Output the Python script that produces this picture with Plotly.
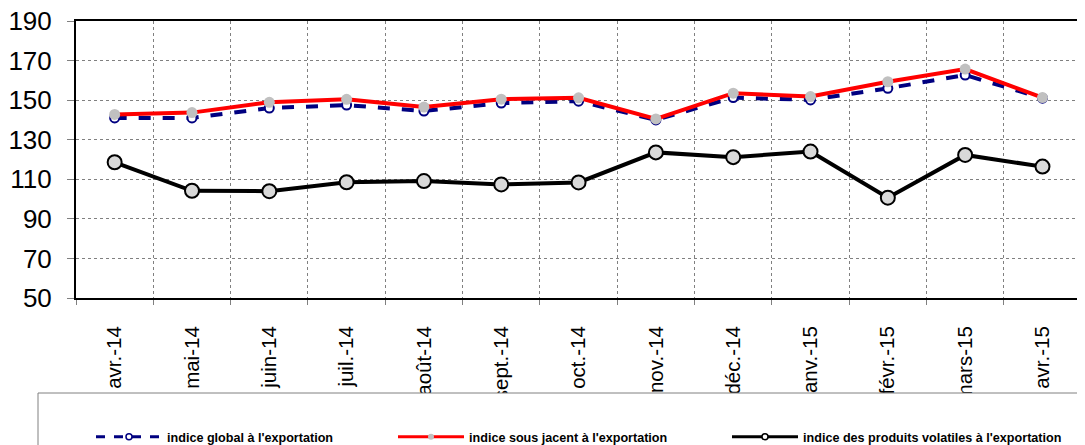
import plotly.graph_objects as go

months = ["avr.-14", "mai-14", "juin-14", "juil.-14", "août-14", "sept.-14", "oct.-14",
          "nov.-14", "déc.-14", "janv.-15", "févr.-15", "mars-15", "avr.-15"]
indice_global = [141, 141, 146, 147.5, 144.5, 148.5, 149.5, 140, 151.3, 150.1, 156, 162.7, 151]
indice_sous_jacent = [142.8, 143.7, 148.9, 150.4, 146.5, 150.5, 151.2, 140.5, 153.5, 151.8, 159.3, 165.7, 151.3]
indice_volatiles = [118.6, 104.2, 104.0, 108.5, 109.1, 107.4, 108.4, 123.6, 121.2, 124.0, 100.7, 122.3, 116.4]

names = ["indice global à l'exportation", "indice sous jacent à l'exportation",
         "indice des produits volatiles à l'exportation"]

FONT = "Arial, Liberation Sans, sans-serif"

# page offset (body margin of the html page)
OFF = 8
W, H = 1085 - OFF, 445 - OFF
L, T, R = 76 - OFF, 21 - OFF, 0
PB = 298 - OFF          # plot bottom in figure coords
B = H - PB
pw = W - L - R
ph = PB - T

def px_x(x):            # page px -> paper
    return (x - OFF - L) / pw

def px_y(y):
    return (PB - (y - OFF)) / ph

fig = go.Figure()
fig.add_trace(go.Scatter(
    x=months, y=indice_global, name=names[0], mode="lines+markers",
    line=dict(color="#000080", width=4, dash="dash"),
    marker=dict(symbol="circle", size=9, color="white", line=dict(color="#000080", width=2)),
    showlegend=False))
fig.add_trace(go.Scatter(
    x=months, y=indice_sous_jacent, name=names[1], mode="lines+markers",
    line=dict(color="#ff0000", width=4),
    marker=dict(symbol="circle", size=11, color="#c0c0c0", line=dict(width=0)),
    showlegend=False))
fig.add_trace(go.Scatter(
    x=months, y=indice_volatiles, name=names[2], mode="lines+markers",
    line=dict(color="#000000", width=4),
    marker=dict(symbol="circle", size=14, color="#d9d9d9", line=dict(color="#000000", width=2)),
    showlegend=False))

# legend entries (small symbols like the reference)
fig.add_trace(go.Scatter(
    x=[None], y=[None], name=names[0], mode="lines+markers",
    line=dict(color="#000080", width=3, dash="dash"),
    marker=dict(symbol="circle", size=6, color="white", line=dict(color="#000080", width=1.5)),
    legend="legend"))
fig.add_trace(go.Scatter(
    x=[None], y=[None], name=names[1], mode="lines+markers",
    line=dict(color="#ff0000", width=3),
    marker=dict(symbol="circle", size=6, color="#c0c0c0", line=dict(width=0)),
    legend="legend2"))
fig.add_trace(go.Scatter(
    x=[None], y=[None], name=names[2], mode="lines+markers",
    line=dict(color="#000000", width=3),
    marker=dict(symbol="circle", size=6, color="white", line=dict(color="#000000", width=1.5)),
    legend="legend3"))

leg_font = dict(family=FONT, size=12.6, color="black", weight="bold")
leg_common = dict(orientation="h", font=leg_font, bgcolor="rgba(0,0,0,0)",
                  xanchor="left", yanchor="middle", borderwidth=0, itemwidth=66)

fig.update_layout(
    width=W, height=H,
    margin=dict(l=L, r=R, t=T, b=B, autoexpand=False),
    paper_bgcolor="white", plot_bgcolor="white",
    font=dict(family=FONT, color="black"),
    showlegend=True,
    legend=dict(x=px_x(91), y=px_y(437), **leg_common),
    legend2=dict(x=px_x(393), y=px_y(437), **leg_common),
    legend3=dict(x=px_x(727), y=px_y(437), **leg_common),
    xaxis=dict(
        type="category", tickson="boundaries", tickangle=-90,
        tickfont=dict(family=FONT, size=20.5, color="black"),
        showgrid=True, gridcolor="#808080", griddash="dot", gridwidth=1,
        ticks="outside", ticklen=5, tickcolor="#808080",
        showline=True, linecolor="black", linewidth=2, mirror=True,
        ticklabelstandoff=18, automargin=False,
        range=[-0.5, 12.55],
    ),
    yaxis=dict(
        range=[50, 190], dtick=20, tick0=50,
        tickfont=dict(family=FONT, size=26, color="black"),
        showgrid=True, gridcolor="#808080", griddash="dot", gridwidth=1,
        ticks="outside", ticklen=7, tickcolor="#808080",
        showline=True, linecolor="black", linewidth=2, mirror=False,
        zeroline=False, ticklabelstandoff=10, ticklabeloverflow="allow",
        automargin=False,
    ),
    shapes=[dict(type="rect", xref="paper", yref="paper",
                 x0=px_x(38), x1=px_x(1100), y0=px_y(393), y1=px_y(470),
                 line=dict(color="#808080", width=1), fillcolor="white", layer="above")],
)

fig.write_html("out.html")
